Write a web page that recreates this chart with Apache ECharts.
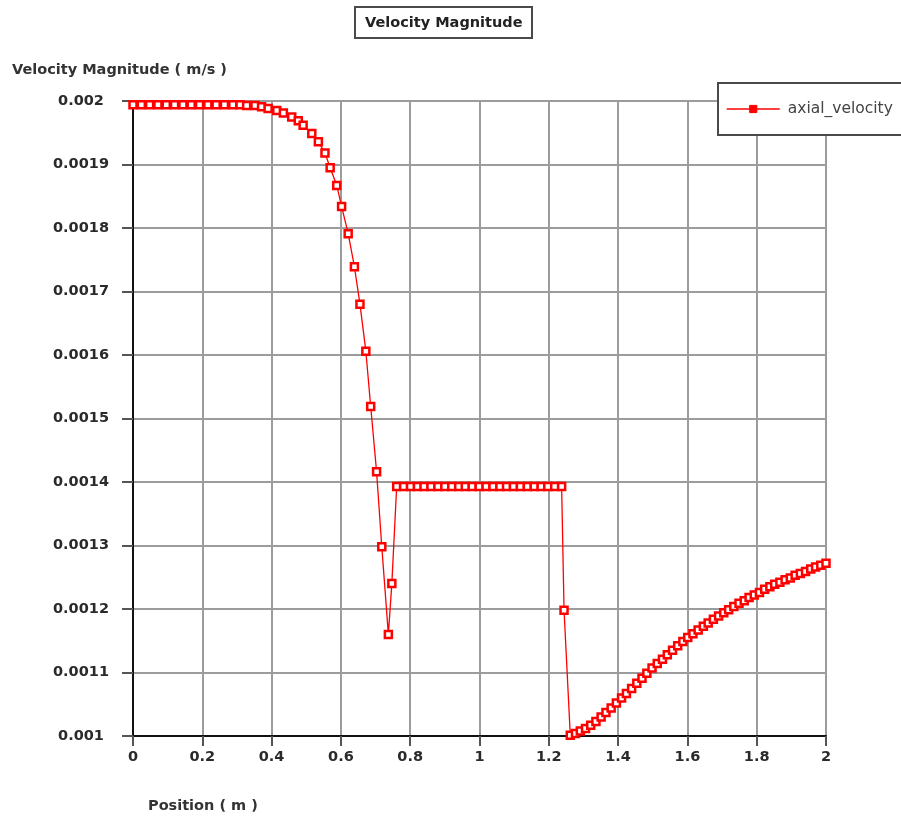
<!DOCTYPE html>
<html>
<head>
<meta charset="utf-8">
<script src="https://cdn.jsdelivr.net/npm/echarts@6/dist/echarts.min.js"></script>
<style>
html,body{margin:0;padding:0;background:#fff;}
#chart{width:901px;height:819px;}
</style>
</head>
<body>
<div id="chart"></div>
<script>
const chartTitle = 'Velocity Magnitude';
const yAxisTitle = 'Velocity Magnitude ( m/s )';
const xAxisTitle = 'Position ( m )';
const seriesName = 'axial_velocity';

const xTickLabels = ['0','0.2','0.4','0.6','0.8','1','1.2','1.4','1.6','1.8','2'];
const yTickLabels = ['0.001','0.0011','0.0012','0.0013','0.0014','0.0015','0.0016','0.0017','0.0018','0.0019','0.002'];

const position = [
  0, 0.024, 0.048, 0.072, 0.096, 0.120, 0.144, 0.168, 0.192, 0.216, 0.240, 0.264, 0.288,
  0.309, 0.328, 0.352, 0.371, 0.390, 0.415, 0.434, 0.458, 0.477, 0.491, 0.516, 0.535, 0.554,
  0.569, 0.588, 0.602, 0.621, 0.639, 0.655, 0.672, 0.686, 0.703, 0.718, 0.737, 0.747,
  0.761, 0.781, 0.801, 0.821, 0.840, 0.860, 0.880, 0.900, 0.920, 0.940, 0.959, 0.979, 0.999,
  1.019, 1.039, 1.059, 1.078, 1.098, 1.118, 1.138, 1.158, 1.178, 1.197, 1.217, 1.237,
  1.244,
  1.262, 1.277, 1.291, 1.306, 1.321, 1.336, 1.351, 1.365, 1.380, 1.395, 1.410, 1.424, 1.439,
  1.454, 1.469, 1.483, 1.498, 1.513, 1.528, 1.542, 1.557, 1.572, 1.587, 1.601, 1.616, 1.631,
  1.646, 1.660, 1.675, 1.690, 1.705, 1.719, 1.734, 1.749, 1.764, 1.778, 1.793, 1.808, 1.823,
  1.838, 1.852, 1.867, 1.882, 1.897, 1.911, 1.926, 1.941, 1.956, 1.970, 1.985, 2.000
];

const axialVelocity = [
  0.001994, 0.001994, 0.001994, 0.001994, 0.001994, 0.001994, 0.001994, 0.001994, 0.001994, 0.001994, 0.001994, 0.001994, 0.001994,
  0.001994, 0.001993, 0.001993, 0.001991, 0.001988, 0.001985, 0.001981, 0.001975, 0.001969, 0.001962, 0.001949, 0.001936, 0.001918,
  0.001895, 0.001867, 0.001834, 0.001791, 0.001739, 0.001680, 0.001606, 0.001519, 0.001416, 0.001298, 0.001160, 0.001240,
  0.001393, 0.001393, 0.001393, 0.001393, 0.001393, 0.001393, 0.001393, 0.001393, 0.001393, 0.001393, 0.001393, 0.001393, 0.001393,
  0.001393, 0.001393, 0.001393, 0.001393, 0.001393, 0.001393, 0.001393, 0.001393, 0.001393, 0.001393, 0.001393, 0.001393,
  0.001198,
  0.001001, 0.001004, 0.001008, 0.001012, 0.001017, 0.001023, 0.001030, 0.001037, 0.001044, 0.001052, 0.001060, 0.001067, 0.001075,
  0.001083, 0.001091, 0.001099, 0.001107, 0.001114, 0.001121, 0.001128, 0.001135, 0.001142, 0.001149, 0.001155, 0.001161, 0.001167,
  0.001173, 0.001178, 0.001184, 0.001189, 0.001194, 0.001199, 0.001204, 0.001209, 0.001213, 0.001218, 0.001222, 0.001226, 0.001231,
  0.001235, 0.001239, 0.001242, 0.001246, 0.001249, 0.001253, 0.001256, 0.001259, 0.001263, 0.001266, 0.001269, 0.001272
];

const seriesData = position.map((x, i) => [x, axialVelocity[i]]);

const FONT = 'DejaVu Sans';
const chart = echarts.init(document.getElementById('chart'), null, {renderer: 'canvas'});

chart.setOption({
  animation: false,
  backgroundColor: '#ffffff',
  title: [
    {
      text: chartTitle,
      left: 355, top: 7,
      padding: [8, 10, 6, 10],
      borderWidth: 2, borderColor: '#4a4a4a',
      textStyle: {fontFamily: FONT, fontWeight: 'bold', fontSize: 14.5, color: '#222', lineHeight: 17}
    },
    {
      text: yAxisTitle,
      left: 12, top: 61, padding: 0,
      textStyle: {fontFamily: FONT, fontWeight: 'bold', fontSize: 14.5, color: '#333', lineHeight: 18}
    },
    {
      text: xAxisTitle,
      left: 148, top: 797, padding: 0,
      textStyle: {fontFamily: FONT, fontWeight: 'bold', fontSize: 14.5, color: '#333', lineHeight: 18}
    }
  ],
  legend: {
    left: 718, top: 83,
    padding: [18, 30, 18, 8],
    backgroundColor: '#ffffff',
    borderColor: '#4a4a4a', borderWidth: 2,
    itemWidth: 53, itemHeight: 9,
    itemGap: 8,
    itemStyle: {color: '#ff0000', borderColor: '#ff0000', borderWidth: 1},
    lineStyle: {color: '#ff0000', width: 1.5},
    textStyle: {fontFamily: FONT, fontSize: 15.5, color: '#444', padding: [0, 0, 0, 3], lineHeight: 16},
    data: [seriesName]
  },
  grid: {left: 133, right: 75, top: 101, bottom: 83, containLabel: false},
  xAxis: {
    type: 'value', min: 0, max: 2, interval: 0.2,
    axisLine: {show: true, onZero: false, lineStyle: {color: '#111', width: 2}},
    axisTick: {show: true, length: 10, lineStyle: {color: '#555', width: 2}},
    axisLabel: {
      margin: 14, fontFamily: FONT, fontWeight: 'bold', fontSize: 14.5, color: '#2a2a2a',
      formatter: (v) => xTickLabels[Math.round(v / 0.2)]
    },
    splitLine: {show: true, lineStyle: {color: '#9c9c9c', width: 2}}
  },
  yAxis: {
    type: 'value', min: 0.001, max: 0.002, interval: 0.0001,
    axisLine: {show: true, onZero: false, lineStyle: {color: '#111', width: 2}},
    axisTick: {show: true, length: 11, lineStyle: {color: '#555', width: 2}},
    axisLabel: {
      margin: 52, align: 'center', fontFamily: FONT, fontWeight: 'bold', fontSize: 14.5, color: '#2a2a2a',
      formatter: (v) => yTickLabels[Math.round((v - 0.001) / 0.0001)]
    },
    splitLine: {show: true, lineStyle: {color: '#9c9c9c', width: 2}}
  },
  series: [{
    name: seriesName,
    type: 'line',
    data: seriesData,
    symbol: 'rect',
    symbolSize: 7,
    showAllSymbol: true,
    lineStyle: {color: '#ff0000', width: 1.3},
    itemStyle: {color: '#ffffff', borderColor: '#ff0000', borderWidth: 2.5},
    clip: true
  }]
});
</script>
</body>
</html>
